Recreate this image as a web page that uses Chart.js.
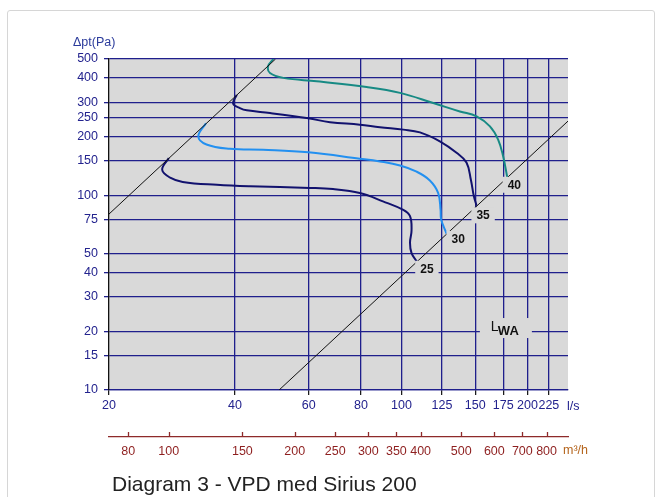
<!DOCTYPE html>
<html><head><meta charset="utf-8">
<script src="https://cdn.jsdelivr.net/npm/chart.js@4.4.1/dist/chart.umd.min.js"></script>
<style>
html,body{margin:0;padding:0;background:#fff;}
#wrap{position:relative;width:663px;height:497px;overflow:hidden;}
#frame{position:absolute;left:7px;top:10px;width:648px;height:520px;border:1px solid #d6d6d6;border-radius:3px;box-sizing:border-box;}
canvas{position:absolute;left:0;top:0;}
#cap{position:absolute;left:112px;top:472px;font:21px "Liberation Sans",Arial,sans-serif;color:#222;white-space:nowrap;line-height:24px;}
</style></head>
<body><div id="wrap"><div id="frame"></div><canvas id="c" width="663" height="497"></canvas><div id="cap">Diagram 3 - VPD med Sirius 200</div></div>
<script>
// ---- data ----
const xTicksLs = [20, 40, 60, 80, 100, 125, 150, 175, 200, 225];
const xTicksM3h = [80, 100, 150, 200, 250, 300, 350, 400, 500, 600, 700, 800];
const yTicksPa = [10, 15, 20, 30, 40, 50, 75, 100, 150, 200, 250, 300, 400, 500];

const curve25Flow = [27.8, 26.8, 28.0, 30.0, 36.2, 43.4, 60.4, 68.6, 79.5, 90.3, 101, 104.8, 105.7, 104.8, 105.7, 108.7];
const curve25Pa   = [155, 135, 123, 117, 113, 111, 109, 107.5, 102.5, 93, 84, 78, 66, 57, 50.4, 45.8];

const curve30Flow = [34.1, 32.7, 34.2, 38.9, 46.7, 59.9, 79.5, 88.8, 99.2, 108.7, 116.9, 122.4, 124, 124.4, 128.1];
const curve30Pa   = [234, 200, 182, 173, 171, 166, 154, 149, 142, 132, 119, 102.5, 84, 75, 63.5];

const curve35Flow = [40.4, 39.6, 41.1, 42.7, 48.5, 59.9, 67.5, 79.5, 88.8, 101, 110.7, 123.5, 135.4, 143, 146.5, 148.9, 151.2];
const curve35Pa   = [327, 295, 280, 272.5, 264, 248, 237, 230, 223, 217, 210, 189, 165, 147, 120, 99, 88.2];

const curve40Flow = [49.4, 48.0, 48.5, 52.2, 62.7, 82.5, 99.2, 119.1, 137.9, 151.2, 162.7, 170.2, 175, 178.9];
const curve40Pa   = [500, 459, 424, 400, 384, 359, 335, 297, 269, 254, 225.5, 193, 158, 124];

const limitLineFlow = [20, 50];
const limitLinePa   = [80, 500];
const soundLineFlow = [51, 250];
const soundLinePa   = [10, 240];

const curveNames = ['25', '30', '35', '40'];
const curveLabelFlow = [115.0, 136.6, 156.7, 186.1];
const curveLabelPa   = [41.9, 59.7, 78.8, 113.1];
const lwaLabelFlow = 177.6;
const lwaLabelPa = 20.8;

// ---- styling ----
const NAVY_GRID = '#1f1f8c';
const NAVY_TEXT = '#23238e';
const RED_TEXT = '#8e1f1f';
const PLOT_BG = '#d9d9d9';
const FONT = '"Liberation Sans", Arial, sans-serif';

function pts(xs, ys) { return xs.map((v, i) => ({ x: v, y: ys[i] })); }

const plotBg = {
  id: 'plotBg',
  beforeDraw(chart) {
    const a = chart.chartArea, c = chart.ctx;
    c.save(); c.fillStyle = PLOT_BG; c.fillRect(a.left, a.top, a.right - a.left, a.bottom - a.top); c.restore();
  }
};

const extras = {
  id: 'extras',
  afterDatasetsDraw(chart) {
    const c = chart.ctx, xs = chart.scales.x, ys = chart.scales.y;
    c.save();
    // curve labels with gray boxes
    c.font = 'bold 12px ' + FONT;
    c.textAlign = 'center'; c.textBaseline = 'middle';
    curveNames.forEach((t, i) => {
      const px = xs.getPixelForValue(curveLabelFlow[i]);
      const py = ys.getPixelForValue(curveLabelPa[i]);
      const w = c.measureText(t).width + 10;
      c.fillStyle = PLOT_BG; c.fillRect(px - w / 2, py - 8, w, 16);
      c.fillStyle = '#111'; c.fillText(t, px, py + 0.5);
    });
    // LWA
    const lx = xs.getPixelForValue(lwaLabelFlow), ly = ys.getPixelForValue(lwaLabelPa);
    c.fillStyle = PLOT_BG; c.fillRect(lx - 26, ly - 10, 52, 20);
    c.fillStyle = '#111';
    c.textAlign = 'left'; c.textBaseline = 'alphabetic';
    c.font = '14px ' + FONT;
    c.fillText('L', lx - 15, ly + 3);
    c.font = 'bold 13px ' + FONT;
    c.fillText('WA', lx - 8, ly + 7);
    c.restore();
  },
  afterDraw(chart) {
    const c = chart.ctx, xs = chart.scales.x, x2 = chart.scales.x2;
    c.save();
    // up-ticks on the m3/h axis
    c.strokeStyle = '#8e2a2a'; c.lineWidth = 1.3;
    xTicksM3h.forEach(v => {
      const px = Math.round(x2.getPixelForValue(v)) + 0.5;
      c.beginPath(); c.moveTo(px, x2.top - 5); c.lineTo(px, x2.top); c.stroke();
    });
    c.textBaseline = 'middle'; c.textAlign = 'left';
    c.font = '12.5px ' + FONT;
    c.fillStyle = '#b5651d';
    c.fillText('m³/h', x2.right - 5, x2.top + 14);
    c.fillStyle = NAVY_TEXT;
    c.fillText('l/s', xs.right - 1, xs.top + 17);
    c.fillStyle = '#2b3b9b';
    c.font = '12.5px ' + FONT;
    c.fillText('Δpt(Pa)', 73, 43);
    c.restore();
  }
};

const ds = (label, data, color, width, tension) => ({
  label, data, borderColor: color, borderWidth: width, pointRadius: 0, tension,
  fill: false, xAxisID: 'x', yAxisID: 'y'
});

new Chart(document.getElementById('c'), {
  type: 'line',
  data: {
    datasets: [
      ds('limit', pts(limitLineFlow, limitLinePa), '#111', 1, 0),
      ds('LWA', pts(soundLineFlow, soundLinePa), '#111', 1, 0),
      ds('25', pts(curve25Flow, curve25Pa), '#12126e', 2, 0.4),
      ds('30', pts(curve30Flow, curve30Pa), '#2390f0', 2, 0.4),
      ds('35', pts(curve35Flow, curve35Pa), '#12126e', 2, 0.4),
      ds('40', pts(curve40Flow, curve40Pa), '#178a84', 2, 0.4)
    ]
  },
  options: {
    responsive: false, animation: false, devicePixelRatio: 1,
    layout: { padding: { left: 0, top: 59, right: 95, bottom: 35 } },
    plugins: { legend: { display: false }, tooltip: { enabled: false }, title: { display: false } },
    scales: {
      x: {
        type: 'logarithmic', position: 'bottom', min: 20, max: 250, weight: 0,
        afterBuildTicks: s => { s.ticks = xTicksLs.map(v => ({ value: v })); },
        afterFit: s => { s.height = 47; },
        ticks: { autoSkip: false, maxRotation: 0, minRotation: 0, padding: 3, color: NAVY_TEXT,
          font: { family: FONT, size: 12.5 }, callback: v => String(v) },
        grid: { color: ctx => (ctx.tick && ctx.tick.value === 20) ? 'rgba(0,0,0,0)' : NAVY_GRID,
          lineWidth: 1.3, tickLength: 5, tickColor: '#111', tickWidth: 1.2 },
        border: { color: NAVY_GRID, width: 1.3 }
      },
      x2: {
        type: 'logarithmic', position: 'bottom', min: 72, max: 900, weight: 1,
        afterBuildTicks: s => { s.ticks = xTicksM3h.map(v => ({ value: v })); },
        afterFit: s => { s.height = 25; },
        ticks: { autoSkip: false, maxRotation: 0, minRotation: 0, padding: 7, color: RED_TEXT,
          font: { family: FONT, size: 12.5 }, callback: v => String(v) },
        grid: { drawOnChartArea: false, drawTicks: false },
        border: { color: '#8e2a2a', width: 1.3 }
      },
      y: {
        type: 'logarithmic', position: 'left', min: 10, max: 500,
        afterBuildTicks: s => { s.ticks = yTicksPa.map(v => ({ value: v })); },
        afterFit: s => { s.width = 109; },
        ticks: { autoSkip: false, padding: 6, color: NAVY_TEXT,
          font: { family: FONT, size: 12.5 }, callback: v => String(v) },
        grid: { color: NAVY_GRID, lineWidth: 1.3, tickLength: 5, tickColor: NAVY_GRID },
        border: { color: '#111', width: 1.3 }
      }
    }
  },
  plugins: [plotBg, extras]
});
</script>
</body></html>
